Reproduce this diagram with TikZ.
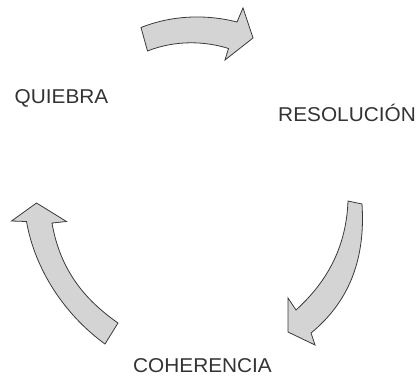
\documentclass[tikz,border=0pt]{standalone}
\usepackage{fontspec}
\usepackage{graphicx}
\setmainfont{Liberation Sans}
\definecolor{arrowfill}{HTML}{D4D4D4}
\definecolor{arrowline}{HTML}{3A3A3A}
\definecolor{textgray}{HTML}{333333}
\tikzset{
  bigarrow/.style={fill=arrowfill, draw=arrowline, line width=0.8pt, line join=miter},
  label/.style={anchor=base, inner sep=0pt, text=textgray, font=\fontsize{20}{24}\selectfont}
}
\begin{document}
\begin{tikzpicture}[x=1pt,y=-1pt]
\useasboundingbox (0,0) rectangle (419,377);
% top arrow
\draw[bigarrow] (141,27.5) .. controls (175,14) and (210,15) .. (237,22) -- (243,8) -- (253,38) -- (225,60) -- (228.5,48.5) .. controls (205,41) and (175,40) .. (147.5,51) -- cycle;
% right arrow
\draw[bigarrow] (348,201) -- (362,204) .. controls (366,265) and (345,305) .. (311,333) -- (315,345) -- (288,332) -- (288,298) -- (296,310) .. controls (320,288) and (346,255) .. (348,201) -- cycle;
% left arrow
\draw[bigarrow] (36.5,203) -- (66.5,221.5) -- (52,223) .. controls (60,270) and (85,300) .. (118,323) -- (105,344) .. controls (65,315) and (35,270) .. (26.5,221.5) -- (11.5,221) -- cycle;
\node[label] (quiebra) at (61.5,103) {\scalebox{1.04}[1]{QUIEBRA}};
\node[label] (resolucion) at (347,121.5) {\scalebox{1.04}[1]{RESOLUCIÓN}};
\node[label] (coherencia) at (202.5,372) {\scalebox{1.04}[1]{COHERENCIA}};
\end{tikzpicture}
\end{document}
